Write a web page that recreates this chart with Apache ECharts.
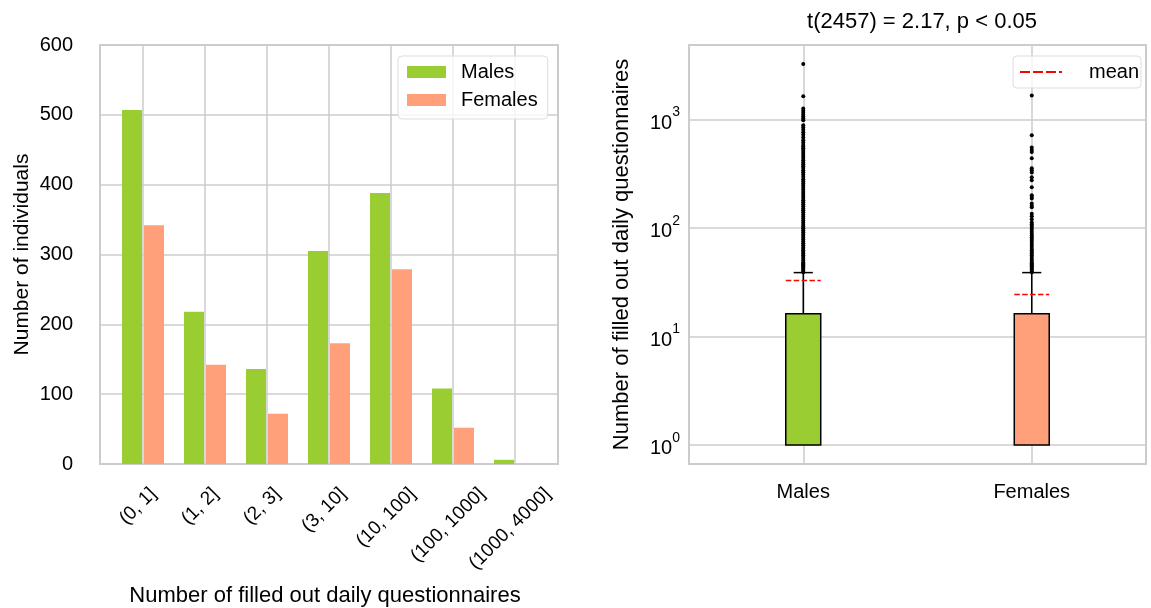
<!DOCTYPE html>
<html>
<head>
<meta charset="utf-8">
<script src="https://cdn.jsdelivr.net/npm/echarts@6/dist/echarts.min.js"></script>
<style>
html,body{margin:0;padding:0;background:#fff;}
#chart{width:1151px;height:608px;}
</style>
</head>
<body>
<div id="chart"></div>
<script>
// ---- data ----
const categories = ['(0, 1]', '(1, 2]', '(2, 3]', '(3, 10]', '(10, 100]', '(100, 1000]', '(1000, 4000]'];
const males = [507, 218, 136, 305, 388, 108, 6];
const females = [342, 142, 72, 173, 279, 52, 0];
const yTicksLeft = [0, 100, 200, 300, 400, 500, 600];

const groups = ['Males', 'Females'];
const boxQ1 = [1, 1];
const boxQ3 = [16.2, 16.2];
const whiskerHigh = [38.7, 38.7];
const means = [32.7, 24.3];
const maleOutliers = [3228, 1634, 1260, 1200, 1150, 1100, 1060, 1020, 980, 880, 840, 800, 760, 720, 680, 640, 610, 580, 560, 540, 520, 500, 480, 460, 440, 420, 400, 385, 370, 355, 340, 325, 310, 295, 280, 268, 256, 245, 234, 224, 214, 205, 196, 188, 180, 172, 165, 158, 151, 145, 139, 133, 127, 122, 117, 112, 107, 103, 99, 95, 91, 87, 84, 81, 78, 75, 72, 69, 66, 64, 62, 60, 58, 56, 54, 52, 50, 48, 47, 46, 45, 44, 43, 42, 41, 40, 39];
const femaleOutliers = [1660, 713, 550, 520, 500, 437, 354, 340, 323, 293, 275, 236, 200, 192, 186, 168, 160, 155, 135, 128, 120, 112, 108, 104, 100, 96, 92, 88, 85, 82, 79, 76, 73, 70, 67, 64, 62, 60, 58, 56, 54, 52, 50, 48, 47, 46, 45, 44, 43, 42, 41, 40, 39];
const titleText = 't(2457) = 2.17, p < 0.05';
const xTitleLeft = 'Number of filled out daily questionnaires';

// ---- style ----
const GREEN = '#9acd32', SALMON = '#ffa07a', GRID = '#cccccc';
const FONT = 'Liberation Sans, Arial, sans-serif';
const TICK_FS = 20, LABEL_FS = 22, XROT_FS = 19;
const boxColors = [GREEN, SALMON];

const chart = echarts.init(document.getElementById('chart'), null, {renderer: 'canvas'});

const boxData = groups.map((g, i) => [i, boxQ1[i], boxQ3[i], whiskerHigh[i]]);
const meanData = groups.map((g, i) => [i, means[i]]);
const outlierData = [];
maleOutliers.forEach(v => outlierData.push([0, v]));
femaleOutliers.forEach(v => outlierData.push([1, v]));

function renderBox(params, api) {
  const x = api.value(0), q1 = api.value(1), q3 = api.value(2), hi = api.value(3);
  const pTop = api.coord([x, q3]);
  const pBot = api.coord([x, q1]);
  const pHi = api.coord([x, hi]);
  const band = api.size([1, 0])[0];
  const bw = band * 0.153, cw = band * 0.084;
  return {
    type: 'group',
    children: [
      {type: 'line', shape: {x1: pTop[0], y1: pTop[1], x2: pHi[0], y2: pHi[1]}, style: {stroke: '#000', lineWidth: 1.5}},
      {type: 'line', shape: {x1: pHi[0] - cw / 2, y1: pHi[1], x2: pHi[0] + cw / 2, y2: pHi[1]}, style: {stroke: '#000', lineWidth: 1.5}},
      {type: 'rect', shape: {x: pTop[0] - bw / 2, y: pTop[1], width: bw, height: pBot[1] - pTop[1]},
        style: {fill: boxColors[params.dataIndex], stroke: '#000', lineWidth: 1.5}}
    ]
  };
}
function renderMean(params, api) {
  const x = api.value(0), m = api.value(1);
  const p = api.coord([x, m]);
  const band = api.size([1, 0])[0];
  const bw = band * 0.153;
  return {type: 'line', shape: {x1: p[0] - bw / 2, y1: p[1], x2: p[0] + bw / 2, y2: p[1]},
    style: {stroke: '#ff0000', lineWidth: 1.5, lineDash: [5.5, 2.4]}, z2: 10};
}

const baseGraphics = [
  {id: 'xtitle', type: 'text', x: 325, y: 596, style: {text: xTitleLeft, font: LABEL_FS + 'px ' + FONT, fill: '#000', align: 'center', verticalAlign: 'middle'}},
  {id: 'title', type: 'text', x: 922, y: 22, style: {text: titleText, font: LABEL_FS + 'px ' + FONT, fill: '#000', align: 'center', verticalAlign: 'middle'}}
];

const option = {
  animation: false,
  textStyle: {fontFamily: FONT},
  grid: [
    {left: 100, top: 45, width: 458, height: 419, show: true, borderColor: GRID, borderWidth: 2, backgroundColor: 'transparent', outerBoundsMode: 'none'},
    {left: 112, top: 45, width: 434, height: 419, outerBoundsMode: 'none'},
    {left: 689, top: 45, width: 457, height: 419, show: true, borderColor: GRID, borderWidth: 2, backgroundColor: 'transparent', outerBoundsMode: 'none'}
  ],
  xAxis: [
    {gridIndex: 0, type: 'value', show: false, min: 0, max: 1},
    {gridIndex: 1, type: 'category', data: categories,
      axisLine: {show: false},
      axisTick: {show: true, interval: 0, alignWithLabel: true, inside: true, length: 419, lineStyle: {color: GRID, width: 1.5}},
      axisLabel: {show: false, interval: 0},
      splitLine: {show: false}},
    {gridIndex: 2, type: 'category', data: groups,
      axisLine: {show: false},
      axisTick: {show: true, interval: 0, alignWithLabel: true, inside: true, length: 419, lineStyle: {color: GRID, width: 1.5}},
      axisLabel: {fontSize: TICK_FS, color: '#000', margin: 18, fontFamily: FONT, interval: 0},
      splitLine: {show: false}}
  ],
  yAxis: [
    {gridIndex: 0, type: 'value', min: 0, max: 600, interval: 100,
      axisLine: {show: false}, axisTick: {show: false},
      axisLabel: {fontSize: TICK_FS, color: '#000', margin: 27, fontFamily: FONT},
      splitLine: {show: true, lineStyle: {color: GRID, width: 1.5}},
      name: 'Number of individuals', nameLocation: 'middle', nameGap: 67,
      nameTextStyle: {fontSize: 21, color: '#000', fontFamily: FONT}},
    {gridIndex: 1, type: 'value', min: 0, max: 600, show: false, splitLine: {show: false}},
    {gridIndex: 2, type: 'log', logBase: 10, min: 0.668, max: 4833,
      axisLine: {show: false}, axisTick: {show: false},
      minorSplitLine: {show: false},
      axisLabel: {margin: 9, color: '#000', fontFamily: FONT,
        formatter: function (v) {
          const e = Math.log10(v);
          if (Math.abs(e - Math.round(e)) > 1e-6) return '';
          return '{b|10}{s|' + Math.round(e) + '}';
        },
        rich: {b: {fontSize: TICK_FS, color: '#000', fontFamily: FONT, padding: [8, 0, 0, 0]},
               s: {fontSize: 14, color: '#000', fontFamily: FONT, verticalAlign: 'top', padding: [0, 0, 10, 0]}}},
      splitLine: {show: true, lineStyle: {color: GRID, width: 1.5}},
      name: 'Number of filled out daily questionnaires', nameLocation: 'middle', nameGap: 56,
      nameTextStyle: {fontSize: LABEL_FS, color: '#000', fontFamily: FONT}}
  ],
  legend: [
    {data: ['Males', 'Females'], orient: 'vertical', left: 398, top: 56, icon: 'rect',
      itemWidth: 39, itemHeight: 12, itemGap: 8, padding: [6, 10, 9, 9],
      borderColor: '#dddddd', borderWidth: 1, borderRadius: 4, backgroundColor: 'rgba(255,255,255,0.8)',
      textStyle: {fontSize: TICK_FS, color: '#000', fontFamily: FONT, padding: [0, 0, 0, 10]},
      selectedMode: false},
    {data: [{name: 'mean', icon: 'path://M0,0h10v2h-10zM13,0h10v2h-10zM26,0h10v2h-10zM39,0h3v2h-3z'}],
      orient: 'vertical', left: 1013, top: 56,
      itemWidth: 42, itemHeight: 2, padding: [6, 2, 6, 7],
      borderColor: '#dddddd', borderWidth: 1, borderRadius: 4, backgroundColor: 'rgba(255,255,255,0.8)',
      textStyle: {fontSize: TICK_FS, color: '#000', fontFamily: FONT, padding: [0, 0, 0, 22]},
      selectedMode: false}
  ],
  graphic: baseGraphics,
  series: [
    {name: 'Males', type: 'bar', xAxisIndex: 1, yAxisIndex: 1, data: males, barWidth: 20, barGap: '10%',
      itemStyle: {color: GREEN}},
    {name: 'Females', type: 'bar', xAxisIndex: 1, yAxisIndex: 1, data: females, barWidth: 20,
      itemStyle: {color: SALMON}},
    {name: 'box', type: 'custom', xAxisIndex: 2, yAxisIndex: 2, data: boxData, renderItem: renderBox,
      encode: {x: 0, y: [1, 2, 3]}, z: 3},
    {name: 'outliers', type: 'scatter', xAxisIndex: 2, yAxisIndex: 2, data: outlierData,
      symbolSize: 4, itemStyle: {color: '#000', opacity: 1}, z: 4},
    {name: 'mean', type: 'custom', xAxisIndex: 2, yAxisIndex: 2, data: meanData, renderItem: renderMean,
      encode: {x: 0, y: 1}, itemStyle: {color: '#ff0000'}, z: 5}
  ]
};
chart.setOption(option);

// Rotated category labels, centred on their ticks (matplotlib style), positioned through the axis scale
const measureCtx = document.createElement('canvas').getContext('2d');
measureCtx.font = XROT_FS + 'px "Liberation Sans"';
const labelGraphics = categories.map((c, i) => {
  const p = chart.convertToPixel({xAxisIndex: 1, yAxisIndex: 1}, [c, 0]);
  const L = measureCtx.measureText(c).width;
  const half = 0.3536 * (L + 1.05 * XROT_FS);
  return {id: 'xl' + i, type: 'text', x: p[0] - 5, y: p[1] + 20 + half, rotation: Math.PI / 4,
    style: {text: c, font: XROT_FS + 'px ' + FONT, fill: '#000', align: 'center', verticalAlign: 'middle'}};
});
chart.setOption({graphic: baseGraphics.concat(labelGraphics)});
</script>
</body>
</html>
